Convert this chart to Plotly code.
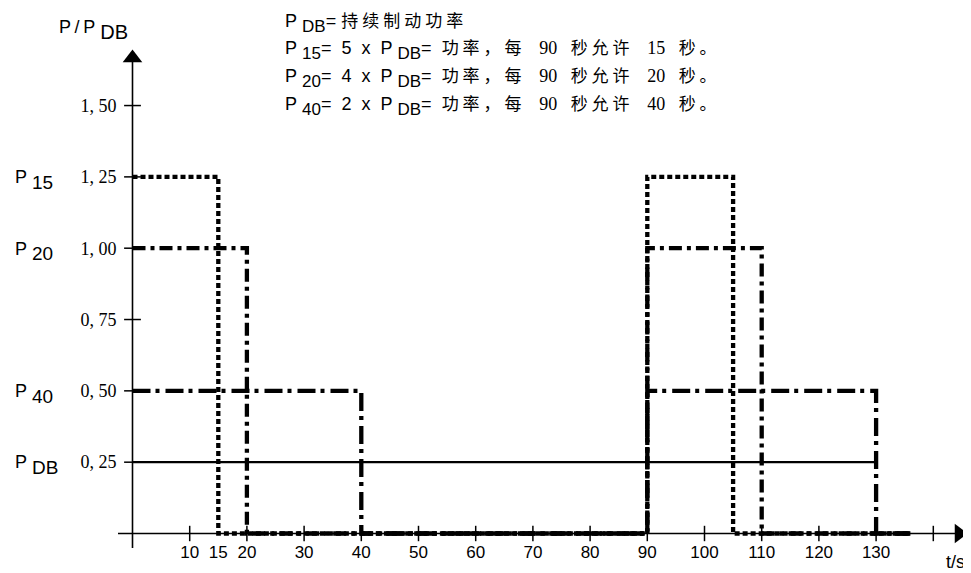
import plotly.graph_objects as go

# ---------------- data ----------------
t_p15 = [0, 15, 15, 90, 90, 105, 105, 136]
v_p15 = [1.25, 1.25, 0, 0, 1.25, 1.25, 0, 0]

t_p20 = [0, 20, 20, 90, 90, 110, 110, 136]
v_p20 = [1.0, 1.0, 0, 0, 1.0, 1.0, 0, 0]

t_p40 = [0, 40, 40, 90, 90, 130, 130, 136]
v_p40 = [0.5, 0.5, 0, 0, 0.5, 0.5, 0, 0]

t_pdb = [0, 130]
v_pdb = [0.25, 0.25]

x_tick_marks = [10, 20, 30, 40, 50, 60, 70, 80, 90, 100, 110, 120, 130, 140]
x_tick_labels = [10, 15, 20, 30, 40, 50, 60, 70, 80, 90, 100, 110, 120, 130]
y_tick_marks = [0.25, 0.5, 0.75, 1.0, 1.25, 1.5]
y_tick_labels = ["0, 25", "0, 50", "0, 75", "1, 00", "1, 25", "1, 50"]
level_values = [1.25, 1.0, 0.5, 0.25]
level_names = ["15", "20", "40", "DB"]

# ---------------- geometry ----------------
W, H = 971, 573
OFF = 8            # page body margin
PX_PER_X = 5.72    # pixels per second
PX_PER_Y = 285.3   # pixels per unit of P/PDB
X0_PX = 132.5 - OFF
Y0_PX = 533.5 - OFF
X_RANGE = [-X0_PX / PX_PER_X, (W - X0_PX) / PX_PER_X]
Y_RANGE = [-(H - Y0_PX) / PX_PER_Y, Y0_PX / PX_PER_Y]


def px_x(p):
    return (p - OFF - X0_PX) / PX_PER_X


def px_y(p):
    return (Y0_PX - (p - OFF)) / PX_PER_Y


X_AXIS = [px_x(118), px_x(959)]
Y_AXIS = [px_y(548), px_y(58)]

SANS = "Liberation Sans"
SERIF = "Liberation Serif"
CJK = "Noto Sans CJK SC"
NB = "\u00a0"


def sub(s, size):
    # subscript rendered at 70% of the wrapping span's size
    return f'<span style="font-size:{size / 0.7:.1f}px"><sub>{s}</sub></span>'


fig = go.Figure()

# axes lines
fig.add_trace(go.Scatter(x=X_AXIS, y=[0, 0], mode="lines",
                         line=dict(color="black", width=1.6), hoverinfo="skip"))
fig.add_trace(go.Scatter(x=[0, 0], y=Y_AXIS, mode="lines",
                         line=dict(color="black", width=1.6), hoverinfo="skip"))

# data lines
fig.add_trace(go.Scatter(x=t_pdb, y=v_pdb, mode="lines",
                         line=dict(color="black", width=2.2)))
fig.add_trace(go.Scatter(x=t_p40, y=v_p40, mode="lines",
                         line=dict(color="black", width=4.3, dash="18px,5px,4px,6px")))
fig.add_trace(go.Scatter(x=t_p20, y=v_p20, mode="lines",
                         line=dict(color="black", width=4.3, dash="13px,5px,4px,5px")))
fig.add_trace(go.Scatter(x=t_p15, y=v_p15, mode="lines",
                         line=dict(color="black", width=4.3, dash="5px,3px")))

# tick marks
fig.add_trace(go.Scatter(x=x_tick_marks, y=[0] * len(x_tick_marks), mode="markers",
                         marker=dict(symbol="line-ns", size=11,
                                     line=dict(color="black", width=1.5))))
fig.add_trace(go.Scatter(x=[0] * len(y_tick_marks), y=y_tick_marks, mode="markers",
                         marker=dict(symbol="line-ew", size=12,
                                     line=dict(color="black", width=1.5))))

# arrow heads
fig.add_trace(go.Scatter(x=[X_AXIS[1]], y=[0], mode="markers",
                         marker=dict(symbol="triangle-right", size=17, color="black")))
fig.add_trace(go.Scatter(x=[0], y=[Y_AXIS[1]], mode="markers",
                         marker=dict(symbol="triangle-up", size=17, color="black")))

# empty trace to attach the level-label axis
fig.add_trace(go.Scatter(x=[None], y=[None], yaxis="y2", mode="markers",
                         hoverinfo="skip"))

ann = []
# axis titles
ann.append(dict(x=(57 - OFF) / W, y=1 - (30 - OFF) / H, xref="paper", yref="paper",
                text='P\u2009/\u2009P' + NB + sub("DB", 20),
                showarrow=False, xanchor="left", yanchor="middle",
                font=dict(family=SANS, size=18, color="black")))
ann.append(dict(x=(967 - OFF) / W, y=1 - (562 - OFF) / H, xref="paper", yref="paper",
                text="t/s", showarrow=False, xanchor="right", yanchor="middle",
                font=dict(family=SANS, size=18, color="black")))


def sans(s):
    return f'<span style="font-family:{SANS};font-size:18px">{s}</span>'


def cjk(s):
    return f'<span style="font-family:{CJK};font-size:17px;letter-spacing:4px">{s}</span>'


def num(s):
    return f'<span style="font-family:{SERIF};font-size:18px">{s}</span>'


def legend_line(name, factor, sec):
    return (sans("P" + NB) + sub(name, 17)
            + sans("=" + NB * 2 + factor + NB * 2 + "x" + NB * 2 + "P" + NB)
            + sub("DB", 17) + sans("=" + NB * 2)
            + cjk("功率，每") + num(NB * 3 + "90" + NB * 3) + cjk("秒允许")
            + num(NB * 3 + sec + NB * 3) + cjk("秒。"))


legend_lines = [
    sans("P" + NB) + sub("DB", 17) + sans("=" + NB) + cjk("持续制动功率"),
    legend_line("15", "5", "15"),
    legend_line("20", "4", "20"),
    legend_line("40", "2", "40"),
]
legend_y = [21, 49, 77, 105]
for txt, ypx in zip(legend_lines, legend_y):
    ann.append(dict(x=(283 - OFF) / W, y=1 - (ypx - OFF) / H, xref="paper", yref="paper",
                    text=txt, showarrow=False, xanchor="left", yanchor="middle",
                    font=dict(family=SANS, size=18, color="black")))

fig.update_layout(
    width=W, height=H,
    margin=dict(l=0, r=0, t=0, b=0),
    paper_bgcolor="white", plot_bgcolor="white",
    showlegend=False,
    xaxis=dict(range=X_RANGE, fixedrange=True, anchor="free",
               position=(H - Y0_PX) / H,
               showline=False, showgrid=False, zeroline=False, ticks="",
               tickmode="array", tickvals=x_tick_labels,
               ticktext=[str(v) for v in x_tick_labels],
               ticklabelstandoff=6,
               tickfont=dict(family=SANS, size=17, color="black")),
    yaxis=dict(range=Y_RANGE, fixedrange=True, anchor="free",
               position=X0_PX / W,
               showline=False, showgrid=False, zeroline=False, ticks="",
               tickmode="array", tickvals=y_tick_marks, ticktext=y_tick_labels,
               ticklabelstandoff=16,
               tickfont=dict(family=SERIF, size=18, color="black")),
    yaxis2=dict(range=Y_RANGE, fixedrange=True, overlaying="y", anchor="free",
                side="right", position=(14 - OFF) / W,
                showline=False, showgrid=False, zeroline=False, ticks="",
                tickmode="array", tickvals=level_values,
                ticktext=["P" + NB + sub(n, 19) for n in level_names],
                tickfont=dict(family=SANS, size=18, color="black")),
    annotations=ann,
)

fig.write_html("out.html")
